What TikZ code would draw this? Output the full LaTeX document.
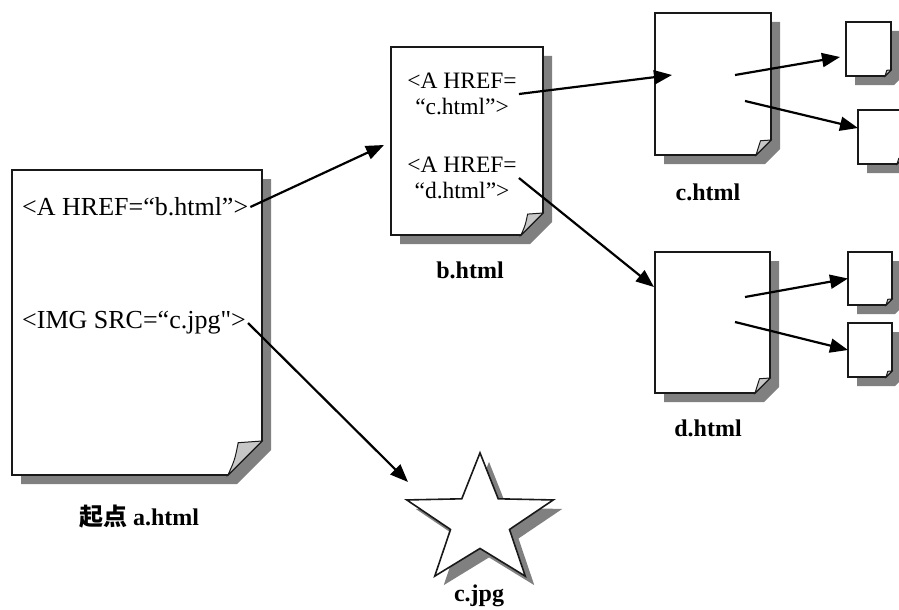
\documentclass[tikz,border=0pt]{standalone}
\usepackage{fontspec}
\setmainfont{Liberation Serif}[Ligatures=TeXOff]
\newfontfamily\cjk{Noto Sans CJK SC}
\usetikzlibrary{arrows.meta}

\tikzset{
  page/.style={inner sep=0pt, outer sep=0pt},
  pageshadow/.style={fill=black!50},
  pageline/.style={draw=black!90, line width=1.6pt, fill=white},
  pagefold/.style={draw=black!90, line width=1pt, fill=black!22},
  link/.style={line width=2.2pt, -{Triangle[length=18pt,width=14pt]}},
  srctext/.style={inner sep=2pt, font=\fontsize{26}{30}\selectfont},
  srctextsmall/.style={inner sep=2pt, align=center, font=\fontsize{23.5}{26}\selectfont},
  lbl/.style={inner sep=1pt, font=\fontsize{24}{28}\selectfont\bfseries},
  starshape/.style={insert path={(90:77) -- (126:31) -- (162:77) -- (198:31) -- (234:77)
    -- (270:31) -- (306:77) -- (342:31) -- (18:77) -- (54:31) -- cycle}}
}

% shadow, outline and folded corner of a page node
\newcommand{\pagedeco}[2]{%
  \fill[pageshadow] ([shift={(9pt,-9pt)}]#1.north west) -- ([shift={(9pt,-9pt)}]#1.north east)
    -- ([shift={(9pt,#2-9pt)}]#1.south east) -- ([shift={(9pt-#2,-9pt)}]#1.south east)
    -- ([shift={(9pt,-9pt)}]#1.south west) -- cycle;
  \filldraw[pageline] (#1.north west) -- (#1.north east) -- ([yshift=#2]#1.south east)
    -- ([xshift=-#2]#1.south east) -- (#1.south west) -- cycle;
  \filldraw[pagefold] ([xshift=-#2]#1.south east)
    .. controls ([shift={(-0.8*#2,0.45*#2)}]#1.south east) .. ([shift={(-0.7*#2,0.95*#2)}]#1.south east)
    -- ([yshift=#2]#1.south east) -- cycle;
}

\begin{document}
\begin{tikzpicture}[x=1pt, y=-1pt]

  \useasboundingbox (0,0) rectangle (899,610);

  \node[page, minimum width=250pt, minimum height=305pt] (a) at (137, 322.5) {};
  \node[page, minimum width=152pt, minimum height=188pt] (b) at (467, 141) {};
  \node[page, minimum width=116pt, minimum height=142pt] (c) at (713, 84) {};
  \node[page, minimum width=115pt, minimum height=141pt] (d) at (712.5, 322.5) {};
  \node[page, minimum width=45pt, minimum height=54pt] (s1) at (868.5, 49) {};
  \node[page, minimum width=45pt, minimum height=54pt] (s2) at (880.5, 137) {};
  \node[page, minimum width=44pt, minimum height=53pt] (s3) at (870, 278.5) {};
  \node[page, minimum width=44pt, minimum height=54pt] (s4) at (870, 350) {};

  \pagedeco{a}{34pt}
  \pagedeco{b}{22pt}
  \pagedeco{c}{15pt}
  \pagedeco{d}{15pt}
  \pagedeco{s1}{6pt}
  \pagedeco{s2}{6pt}
  \pagedeco{s3}{6pt}
  \pagedeco{s4}{6pt}

  % the image
  \begin{scope}[shift={(480,521)}, y=0.885pt]
    \fill[pageshadow, shift={(9pt,-9pt)}, starshape];
    \filldraw[pageline, starshape];
  \end{scope}

  \node[srctext, anchor=west] (ahref) at (20, 207) {<A HREF=“b.html”>};
  \node[srctext, anchor=west] (aimg) at (20, 323) {<IMG SRC=“c.jpg">};
  \node[srctextsmall] (bc) at (462, 94) {<A HREF=\\“c.html”>};
  \node[srctextsmall] (bd) at (462, 178) {<A HREF=\\“d.html”>};

  \node[lbl] (alabel) at (139, 517) {{\cjk 起点} a.html};
  \node[lbl] (blabel) at (470, 270) {b.html};
  \node[lbl] (clabel) at (708, 192) {c.html};
  \node[lbl] (dlabel) at (708, 428) {d.html};
  \node[lbl] (jpglabel) at (479, 596) {c.jpg};

  \coordinate (cin) at (672, 75);
  \coordinate (din) at (654, 287);
  \coordinate (jpgin) at (408, 482);
  \coordinate (cout1) at (735, 75);
  \coordinate (cout2) at (745, 101);
  \coordinate (dout1) at (745, 297);
  \coordinate (dout2) at (735, 322);

  \draw[link] (ahref.east) -- ([shift={(-7pt,-4pt)}]b.west);
  \draw[link] (bc.east) -- (cin);
  \draw[link] (bd.east) -- (din);
  \draw[link] (aimg.east) -- (jpgin);
  \draw[link] (cout1) -- ([shift={(-6pt,-8pt)}]s1.west);
  \draw[link] (cout2) -- ([yshift=9pt]s2.west);
  \draw[link] (dout1) -- (s3.west);
  \draw[link] (dout2) -- (s4.west);

\end{tikzpicture}
\end{document}
